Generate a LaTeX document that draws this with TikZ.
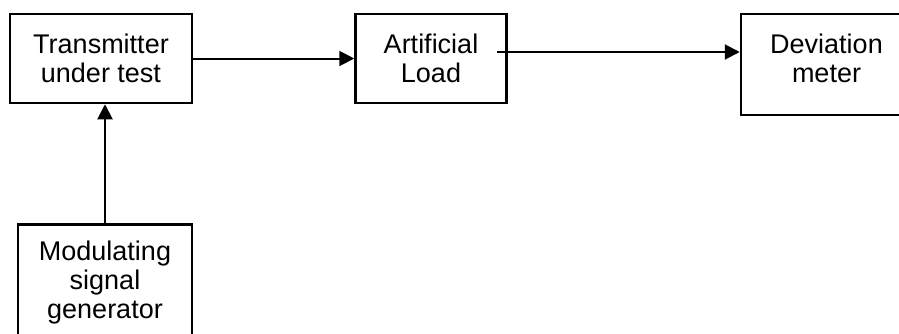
\documentclass[tikz,border=0pt]{standalone}
\usepackage{fontspec}
\setmainfont{Liberation Sans}
\usetikzlibrary{positioning}
\usetikzlibrary{arrows.meta}

\begin{document}
\begin{tikzpicture}
  [
    x=1pt,y=1pt,
    font=\fontsize{27}{29}\selectfont,
    block/.style={
      rectangle,
      draw,
      line width=2.5pt,
      inner sep=0pt,
      align=center
    },
    link/.style={line width=2pt,-{Triangle[length=15pt,width=15pt]}},
  ]
  \useasboundingbox (0,0) rectangle (899,-333);
  \clip (0,0) rectangle (899,-333);

  \node[block,minimum width=182pt,minimum height=89pt] (tx) at (101,-58.5) {Transmitter\\under test};
  \node[block,minimum width=151pt,minimum height=89pt,right=161pt of tx] (load) {Artificial\\Load};
  \node[block,minimum width=171pt,minimum height=101pt,
        right=232pt of load.north east,anchor=north west,
        label={[align=center,yshift=6.5pt]center:{Deviation\\meter}}] (dev) {};
  \node[block,minimum width=174pt,minimum height=116pt,below=119pt of tx,xshift=4pt] (mod)
      {Modulating\\signal\\generator};

  % the load output starts inside its box
  \coordinate (load-out) at ([xshift=-11pt,yshift=6.5pt]load.east);

  \draw[link] (tx) -- (load);
  \draw[link] (load-out) -- (load-out -| dev.west);
  \draw[link] (mod.north) -- (mod.north |- tx.south);
\end{tikzpicture}
\end{document}
